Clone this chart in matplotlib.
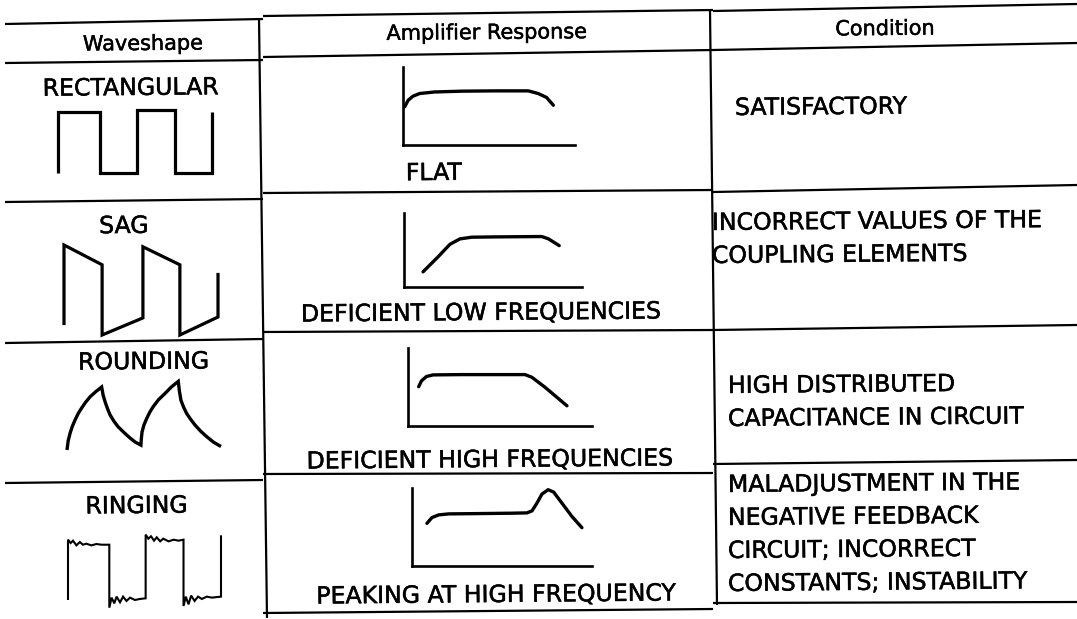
"""Waveshape / amplifier response / condition table (scan recreation)."""

import matplotlib
matplotlib.use("Agg")
import matplotlib.pyplot as plt  # noqa: E402
import matplotlib.patheffects as pe  # noqa: E402

W, H = 1077, 619

# --- table text -------------------------------------------------------------
headers = ["Waveshape", "Amplifier Response", "Condition"]
waveshape_names = ["RECTANGULAR", "SAG", "ROUNDING", "RINGING"]
response_names = ["FLAT", "DEFICIENT LOW FREQUENCIES",
                  "DEFICIENT HIGH FREQUENCIES", "PEAKING AT HIGH FREQUENCY"]
conditions = [
    ["SATISFACTORY"],
    ["INCORRECT VALUES OF THE", "COUPLING ELEMENTS"],
    ["HIGH DISTRIBUTED", "CAPACITANCE IN CIRCUIT"],
    ["MALADJUSTMENT IN THE", "NEGATIVE FEEDBACK", "CIRCUIT; INCORRECT",
     "CONSTANTS; INSTABILITY"],
]

# --- waveshapes (time in half-periods, amplitude 0..1) -----------------------
rect_t = [0, 0, 1.09, 1.09, 2.05, 2.05, 3.04, 3.04, 4, 4]
rect_v = [0, 0.97, 0.97, 0, 0, 1.0, 1.0, 0, 0, 0.97]

sag_t = [0, 0, 0.99, 0.99, 2.05, 2.05, 3.01, 3.01, 4, 4]
sag_v = [0.11, 1.0, 0.78, 0, 0.19, 0.98, 0.78, 0, 0.2, 0.69]

round_t = [0, 0.03, 0.08, 0.14, 0.21, 0.29, 0.38, 0.48, 0.60, 0.74, 0.90,
           0.94, 1.0, 1.06, 1.12, 1.22, 1.33, 1.48, 1.64, 1.78, 1.92,
           1.93, 1.95, 2.0, 2.07, 2.15, 2.24, 2.38, 2.55, 2.71, 2.89,
           2.92, 2.96, 3.03, 3.11, 3.21, 3.32, 3.47, 3.63, 3.81, 4.0]
round_v = [0, 0.13, 0.24, 0.34, 0.43, 0.52, 0.60, 0.68, 0.76, 0.83, 0.90,
           0.78, 0.67, 0.58, 0.50, 0.41, 0.33, 0.25, 0.17, 0.11, 0.07,
           0.16, 0.26, 0.36, 0.45, 0.54, 0.62, 0.72, 0.81, 0.90, 0.98,
           0.84, 0.71, 0.61, 0.52, 0.44, 0.36, 0.27, 0.19, 0.11, 0.05]

ring_t = [0, 0, 0.07, 0.13, 0.22, 0.31, 0.39, 0.48, 0.61, 0.74, 0.88, 1.08,
          1.08, 1.14, 1.21, 1.27, 1.36, 1.44, 1.53, 1.62, 1.75, 1.88, 2.03,
          2.03, 2.10, 2.17, 2.25, 2.32, 2.41, 2.49, 2.63, 2.76, 2.89, 3.02,
          3.02, 3.08, 3.15, 3.22, 3.31, 3.40, 3.50, 3.63, 3.76, 4.0, 4.0]
ring_v = [0.075, 0.975, 0.925, 0.96, 0.89, 0.94, 0.90, 0.915, 0.89, 0.91,
          0.90, 0.90,
          -0.04, 0.11, 0.025, 0.125, 0.04, 0.125, 0.06, 0.11, 0.075, 0.09,
          0.10,
          1.05, 0.99, 1.025, 0.96, 1.01, 0.95, 0.99, 0.95, 0.975, 0.96, 0.975,
          -0.015, 0.125, 0.01, 0.14, 0.06, 0.125, 0.09, 0.125, 0.11, 0.125,
          1.04]

# --- amplifier responses (frequency 0..1, gain 0..1) -------------------------
flat_f = [0.01, 0.03, 0.058, 0.097, 0.184, 0.34, 0.534, 0.728, 0.786, 0.835,
          0.874]
flat_g = [0.49, 0.574, 0.626, 0.66, 0.68, 0.69, 0.694, 0.694, 0.66, 0.609,
          0.51]

low_f = [0.107, 0.192, 0.258, 0.314, 0.38, 0.511, 0.774, 0.812, 0.872]
low_g = [0.205, 0.409, 0.577, 0.65, 0.673, 0.677, 0.682, 0.65, 0.559]

high_f = [0.058, 0.073, 0.1, 0.136, 0.291, 0.473, 0.636, 0.673, 0.745, 0.864]
high_g = [0.504, 0.578, 0.634, 0.655, 0.659, 0.659, 0.659, 0.625, 0.496,
          0.259]

peak_f = [0.083, 0.111, 0.148, 0.204, 0.37, 0.556, 0.639, 0.667, 0.694, 0.722,
          0.756, 0.787, 0.833, 0.889, 0.944]
peak_g = [0.547, 0.621, 0.655, 0.668, 0.672, 0.677, 0.681, 0.707, 0.806,
          0.922, 0.978, 0.948, 0.806, 0.634, 0.491]

waves = [(rect_t, rect_v, 2.3), (sag_t, sag_v, 2.3),
         (round_t, round_v, 2.4), (ring_t, ring_v, 1.5)]
responses = [(flat_f, flat_g), (low_f, low_g), (high_f, high_g),
             (peak_f, peak_g)]

# --- layout (pixels, origin top-left) ----------------------------------------
# the scan is tilted and each column's rules were set separately
COL_X = [(5, 263), (263, 713), (713, 1077)]
RULE_Y = [  # (left y, right y) for each column; None = no rule there
    [(24, 19), (16, 10), (11, 4)],
    [(63, 60), (57, 50), (50, 43)],
    [(202, 199), (193, 190), (192, 185)],
    [(343, 339), (332, 330), (330, 325)],
    [(483, 480), (474, 473), (464, 460)],
    [None, (613, 609), (603, 602)],
]
COLUMN_RULES = [(259, 18, 267, 618), (710, 10, 717, 605)]
TILT = 0.5

HEADER_POS = [(143, 50), (487, 39), (885, 35)]
WAVE_LABEL_POS = [(131, 95), (124, 233), (144, 369), (137, 513)]
WAVE_BOX = [(58, 110, 212, 173), (64, 245, 218, 335),
            (67, 380, 221, 450), (68, 538, 221, 605)]
RESP_LABEL_POS = [(434, 180), (482, 320), (491, 467), (497, 602)]
RESP_BOX = [(403, 67, 575, 145), (404, 213, 582, 287),
            (408, 348, 592, 426), (412, 488, 592, 566)]
COND_POS = [(735, 115), (712, 230), (728, 393), (728, 492)]
COND_PITCH = 33

FONT = "DejaVu Sans"
INK = [pe.withStroke(linewidth=0.35, foreground="black")]


def sub_axes(fig, box):
    x0, y0, x1, y1 = box
    return fig.add_axes([x0 / W, 1 - y1 / H, (x1 - x0) / W, (y1 - y0) / H])


def main():
    fig = plt.figure(figsize=(W / 100, H / 100), dpi=100, facecolor="white")
    ax = fig.add_axes([0, 0, 1, 1])
    ax.set_xlim(0, W)
    ax.set_ylim(H, 0)
    ax.axis("off")

    for row in RULE_Y:
        for (x0, x1), ys in zip(COL_X, row):
            if ys is None:
                continue
            ax.plot([x0, x1], ys, color="black", lw=1.6,
                    solid_capstyle="butt")
    for x0, y0, x1, y1 in COLUMN_RULES:
        ax.plot([x0, x1], [y0, y1], color="black", lw=1.6,
                solid_capstyle="butt")

    txt = dict(family=FONT, color="black", va="baseline", path_effects=INK,
               rotation=TILT, rotation_mode="anchor")
    for label, (x, y) in zip(headers, HEADER_POS):
        ax.text(x, y, label, ha="center", fontsize=15, **txt)
    for label, (x, y) in zip(waveshape_names, WAVE_LABEL_POS):
        ax.text(x, y, label, ha="center", fontsize=17, **txt)
    for label, (x, y) in zip(response_names, RESP_LABEL_POS):
        ax.text(x, y, label, ha="center", fontsize=17, **txt)
    for lines, (x, y) in zip(conditions, COND_POS):
        for i, line in enumerate(lines):
            ax.text(x, y + i * COND_PITCH, line, ha="left", fontsize=17,
                    **txt)

    # waveshape sketches
    for (t, v, lw), box in zip(waves, WAVE_BOX):
        wa = sub_axes(fig, box)
        wa.plot(t, v, color="black", lw=lw, clip_on=False,
                solid_joinstyle="miter", solid_capstyle="butt")
        wa.set_xlim(0, 4)
        wa.set_ylim(0, 1)
        wa.axis("off")

    # amplifier response sketches: L-shaped axes plus the curve
    for (f, g), box in zip(responses, RESP_BOX):
        ra = sub_axes(fig, box)
        ra.patch.set_visible(False)
        ra.plot(f, g, color="black", lw=2.4, clip_on=False,
                solid_capstyle="round", solid_joinstyle="round")
        ra.set_xlim(0, 1)
        ra.set_ylim(0, 1)
        ra.set_xticks([])
        ra.set_yticks([])
        for side in ("top", "right"):
            ra.spines[side].set_visible(False)
        for side in ("left", "bottom"):
            ra.spines[side].set_linewidth(1.9)

    fig.savefig("out.png", dpi=100, facecolor="white")


if __name__ == "__main__":
    main()
